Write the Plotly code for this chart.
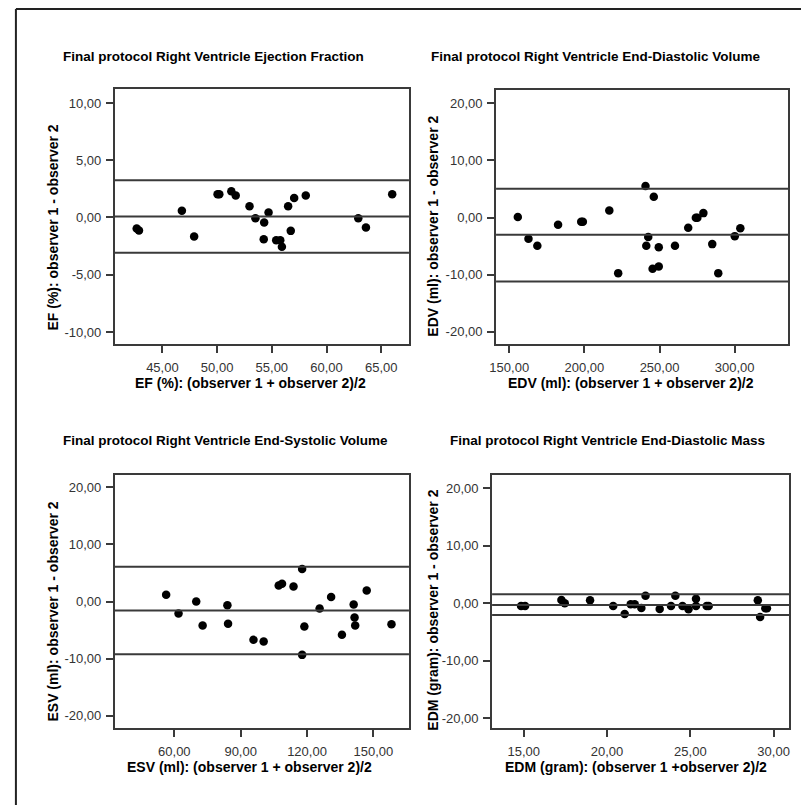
import plotly.graph_objects as go

W, H = 802, 805

# ---------------- data ----------------
ef_mean = [42.65, 42.86, 46.78, 47.9, 50.04, 50.2, 51.3, 51.7, 52.96, 53.5, 54.3, 54.7,
           54.26, 55.4, 55.77, 55.92, 56.49, 56.73, 57.04, 58.1, 62.9, 63.6, 66.0]
ef_diff = [-0.96, -1.14, 0.58, -1.66, 2.03, 2.03, 2.29, 1.92, 0.99, -0.06, -0.44, 0.44,
           -1.9, -1.98, -1.98, -2.56, 0.99, -1.17, 1.71, 1.92, -0.06, -0.87, 2.03]
ef_lines = [3.25, 0.08, -3.09]

edv_mean = [155.7, 162.8, 168.7, 182.5, 197.9, 199.0, 216.6, 222.5, 240.7, 246.2, 242.5, 241.2,
            249.5, 245.4, 249.5, 260.3, 269.1, 274.2, 275.2, 279.2, 285.1, 289.1, 300.1, 303.8]
edv_diff = [0.07, -3.73, -4.96, -1.28, -0.75, -0.75, 1.23, -9.74, 5.5, 3.63, -3.43, -4.96,
            -5.19, -8.98, -8.58, -4.96, -1.8, -0.05, -0.05, 0.77, -4.66, -9.74, -3.26, -1.86]
edv_lines = [5.04, -3.03, -11.2]

esv_mean = [56.3, 61.9, 69.9, 72.8, 84.0, 84.3, 95.8, 100.4, 107.2, 108.7, 113.9, 117.8,
            118.8, 117.8, 125.7, 130.9, 135.8, 141.1, 141.5, 141.8, 147.0, 158.2]
esv_diff = [1.18, -2.1, 0.0, -4.2, -0.64, -3.9, -6.72, -7.0, 2.8, 3.1, 2.63, 5.68,
            -4.38, -9.35, -1.23, 0.77, -5.84, -0.53, -2.8, -4.2, 1.93, -3.97]
esv_lines = [6.09, -1.58, -9.23]

edm_mean = [14.84, 15.08, 17.26, 17.46, 18.98, 20.37, 21.06, 21.42, 21.66, 22.06, 22.31, 23.16,
            23.84, 24.1, 24.53, 24.89, 25.34, 25.34, 25.98, 26.1, 29.05, 29.19, 29.5, 29.6]
edm_diff = [-0.47, -0.47, 0.57, 0.0, 0.52, -0.47, -1.86, -0.17, -0.17, -0.82, 1.32, -0.99,
            -0.47, 1.32, -0.47, -1.04, 0.8, -0.47, -0.47, -0.47, 0.52, -2.38, -0.87, -0.87]
edm_lines = [1.57, -0.3, -2.03]

titles = ["Final protocol Right Ventricle Ejection Fraction",
          "Final protocol Right Ventricle End-Diastolic Volume",
          "Final protocol Right Ventricle End-Systolic Volume",
          "Final protocol Right Ventricle End-Diastolic Mass"]
x_titles = ["EF (%): (observer 1 + observer 2)/2",
            "EDV (ml): (observer 1 + observer 2)/2",
            "ESV (ml): (observer 1 + observer 2)/2",
            "EDM (gram): (observer 1 +observer 2)/2"]
y_titles = ["EF (%): observer 1 - observer 2",
            "EDV (ml): observer 1 - observer 2",
            "ESV (ml): observer 1 - observer 2",
            "EDM (gram): observer 1 - observer 2"]

ef_xticks = [45, 50, 55, 60, 65]
ef_xlabels = ["45,00", "50,00", "55,00", "60,00", "65,00"]
ef_yticks = [10, 5, 0, -5, -10]
ef_ylabels = ["10,00", "5,00", "0,00", "-5,00", "-10,00"]
edv_xticks = [150, 200, 250, 300]
edv_xlabels = ["150,00", "200,00", "250,00", "300,00"]
esv_xticks = [60, 90, 120, 150]
esv_xlabels = ["60,00", "90,00", "120,00", "150,00"]
edm_xticks = [15, 20, 25, 30]
edm_xlabels = ["15,00", "20,00", "25,00", "30,00"]
vol_yticks = [20, 10, 0, -10, -20]
vol_ylabels = ["20,00", "10,00", "0,00", "-10,00", "-20,00"]

# ---------------- layout helpers ----------------
def xp(px):
    return px / W

def yp(py):
    return 1 - py / H

panels = [
    dict(x=ef_mean, y=ef_diff, lines=ef_lines, dom=(109, 406, 89, 344),
         xr=[40.66, 67.53], yr=[-11.05, 11.22], xt=ef_xticks, xl=ef_xlabels,
         yt=ef_yticks, yl=ef_ylabels, title_pos=(55, 57), xt_pos=(246, 383), yt_pos=(46, 228)),
    dict(x=edv_mean, y=edv_diff, lines=edv_lines, dom=(494, 789, 90, 344),
         xr=[141.24, 335.6], yr=[-22.15, 22.33], xt=edv_xticks, xl=edv_xlabels,
         yt=vol_yticks, yl=vol_ylabels, title_pos=(426, 57), xt_pos=(630, 383), yt_pos=(430, 226)),
    dict(x=esv_mean, y=esv_diff, lines=esv_lines, dom=(109, 406, 475, 728),
         xr=[33.13, 166.1], yr=[-22.16, 22.16], xt=esv_xticks, xl=esv_xlabels,
         yt=vol_yticks, yl=vol_ylabels, title_pos=(55, 441), xt_pos=(245, 767), yt_pos=(46, 612)),
    dict(x=edm_mean, y=edm_diff, lines=edm_lines, dom=(490, 790, 475, 728),
         xr=[13.10, 30.93], yr=[-21.69, 22.31], xt=edm_xticks, xl=edm_xlabels,
         yt=vol_yticks, yl=vol_ylabels, title_pos=(445, 441), xt_pos=(635, 767), yt_pos=(430, 610)),
]

FONT = "Liberation Sans, Arial, sans-serif"
AX = "#3a3a3a"

fig = go.Figure()
shapes = []
annotations = []
layout_axes = {}

for i, p in enumerate(panels, start=1):
    sfx = "" if i == 1 else str(i)
    xa, ya = "x" + sfx, "y" + sfx
    fig.add_trace(go.Scatter(x=p["x"], y=p["y"], mode="markers", xaxis=xa, yaxis=ya,
                             marker=dict(color="black", size=8.5), showlegend=False,
                             hoverinfo="x+y"))
    x0, x1, y0, y1 = p["dom"]
    common = dict(showgrid=False, zeroline=False, showline=True, linecolor=AX, linewidth=2,
                  mirror=True, ticks="outside", ticklen=7, tickwidth=2, tickcolor=AX,
                  tickfont=dict(family=FONT, size=13, color="#333333"), tickmode="array")
    layout_axes["xaxis" + sfx] = dict(common, domain=[xp(x0), xp(x1)], range=p["xr"],
                                      tickvals=p["xt"], ticktext=p["xl"], anchor=ya,
                                      ticklabelstandoff=3)
    layout_axes["yaxis" + sfx] = dict(common, domain=[yp(y1), yp(y0)], range=p["yr"],
                                      tickvals=p["yt"], ticktext=p["yl"], anchor=xa,
                                      ticklabelstandoff=2)
    for v in p["lines"]:
        shapes.append(dict(type="line", xref=xa + " domain", yref=ya, x0=0, x1=1, y0=v, y1=v,
                           line=dict(color=AX, width=2)))
    annotations.append(dict(text="<b>" + titles[i - 1] + "</b>", xref="paper", yref="paper",
                            x=xp(p["title_pos"][0]), y=yp(p["title_pos"][1]), xanchor="left",
                            yanchor="middle", showarrow=False,
                            font=dict(family=FONT, size=13.5, color="black")))
    annotations.append(dict(text="<b>" + x_titles[i - 1] + "</b>", xref="paper", yref="paper",
                            x=xp(p["xt_pos"][0]), y=yp(p["xt_pos"][1]), xanchor="center",
                            yanchor="middle", showarrow=False,
                            font=dict(family=FONT, size=14, color="black")))
    annotations.append(dict(text="<b>" + y_titles[i - 1] + "</b>", xref="paper", yref="paper",
                            x=xp(p["yt_pos"][0]), y=yp(p["yt_pos"][1]), xanchor="center",
                            yanchor="middle", showarrow=False, textangle=-90,
                            font=dict(family=FONT, size=14, color="black")))

# outer frame (top and left edges)
shapes.append(dict(type="line", xref="paper", yref="paper", x0=xp(9), x1=1, y0=yp(9), y1=yp(9),
                   line=dict(color="#222222", width=2)))
shapes.append(dict(type="line", xref="paper", yref="paper", x0=xp(9), x1=xp(9), y0=0, y1=yp(9),
                   line=dict(color="#222222", width=2)))

fig.update_layout(width=W, height=H, margin=dict(l=0, r=0, t=0, b=0),
                  paper_bgcolor="white", plot_bgcolor="white",
                  shapes=shapes, annotations=annotations, **layout_axes)

fig.write_html("out.html", config={"displayModeBar": False},
               post_script="document.body.style.margin='0';")
